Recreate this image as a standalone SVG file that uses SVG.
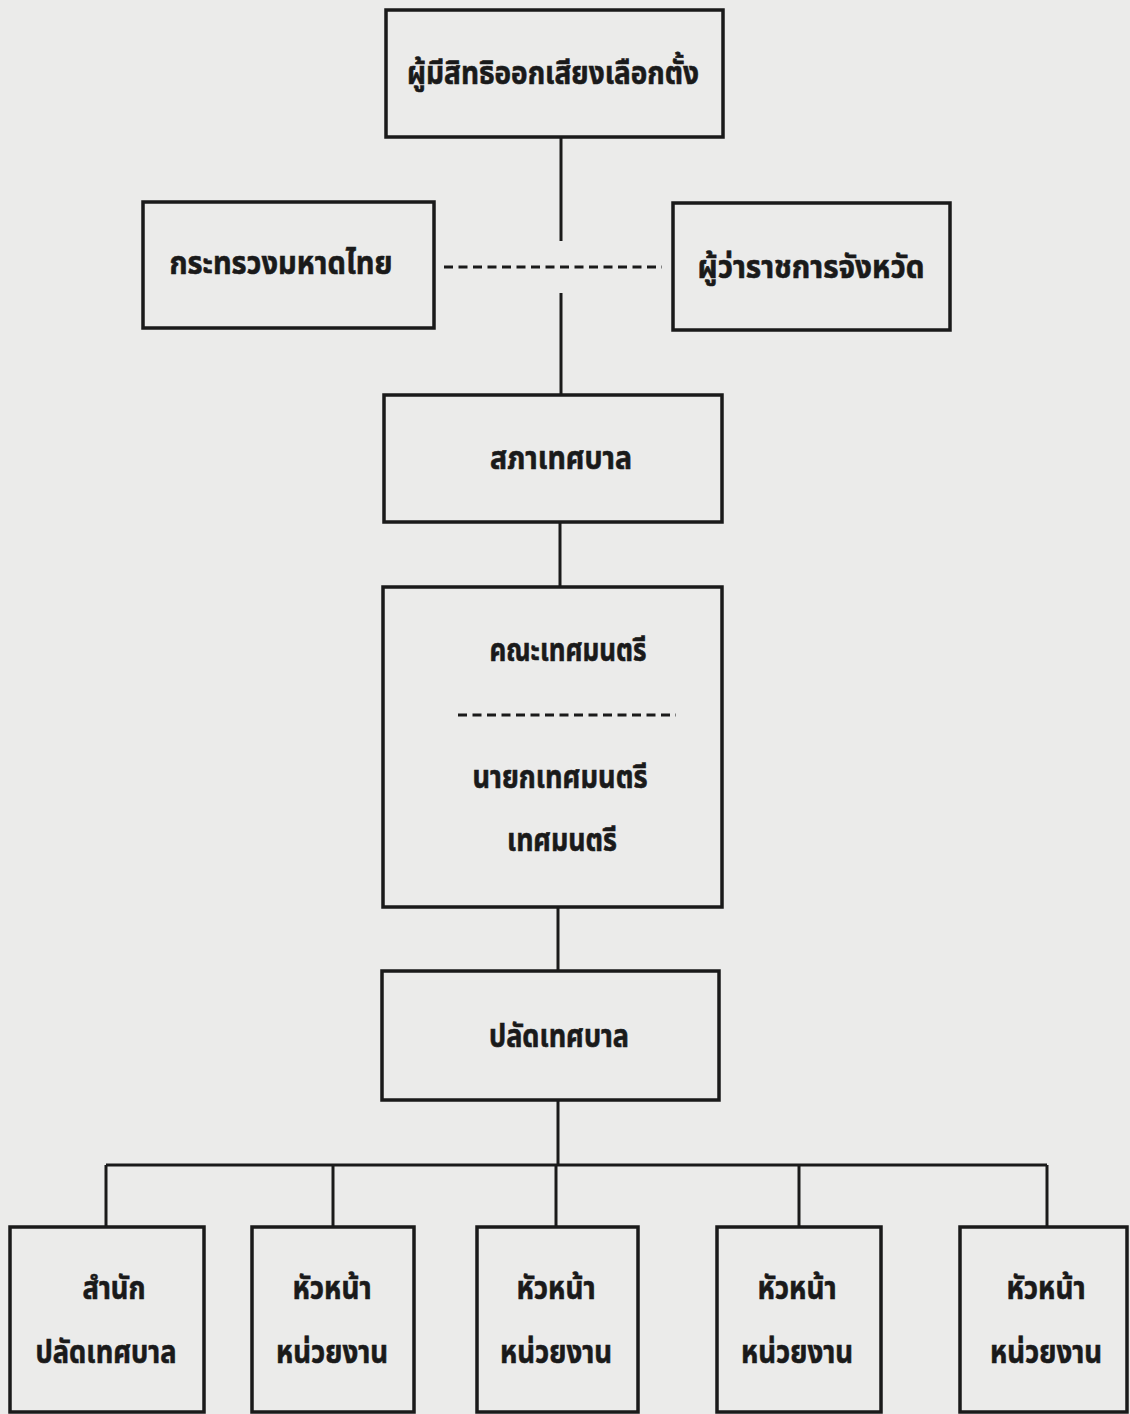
<svg xmlns="http://www.w3.org/2000/svg" width="1130" height="1414" viewBox="0 0 1130 1414">
<style>
.box{fill:none;stroke:#1a1a1a;stroke-width:3.5}
.ln{fill:none;stroke:#1a1a1a;stroke-width:3}
.dash{fill:none;stroke:#1a1a1a;stroke-width:3;stroke-dasharray:9 5.5}
.t{font-family:"Noto Sans Thai","Noto Sans","DejaVu Sans",sans-serif;font-weight:bold;font-size:32px;fill:#1a1a1a;stroke:#1a1a1a;stroke-width:0.6;text-anchor:middle}
</style>
<rect x="0" y="0" width="1130" height="1414" fill="#ebebea"/>
<g id="connectors">
<line class="ln" x1="561" y1="137" x2="561" y2="241"/>
<line class="ln" x1="561" y1="293" x2="561" y2="395"/>
<line class="dash" x1="444" y1="267" x2="662" y2="267"/>
<line class="ln" x1="560" y1="522" x2="560" y2="587"/>
<line class="ln" x1="558" y1="907" x2="558" y2="971"/>
<line class="ln" x1="558" y1="1100" x2="558" y2="1165"/>
<line class="ln" x1="106" y1="1165" x2="1047" y2="1165"/>
<line class="ln" x1="106" y1="1165" x2="106" y2="1227"/>
<line class="ln" x1="333" y1="1165" x2="333" y2="1227"/>
<line class="ln" x1="556" y1="1165" x2="556" y2="1227"/>
<line class="ln" x1="799" y1="1165" x2="799" y2="1227"/>
<line class="ln" x1="1047" y1="1165" x2="1047" y2="1227"/>
</g>
<g id="voters">
<rect class="box" x="386" y="10" width="337" height="127"/>
<text class="t" x="553" y="84" textLength="292" lengthAdjust="spacingAndGlyphs">ผู้มีสิทธิออกเสียงเลือกตั้ง</text>
</g>
<g id="ministry">
<rect class="box" x="143" y="202" width="291" height="126"/>
<text class="t" x="281" y="274" textLength="223" lengthAdjust="spacingAndGlyphs">กระทรวงมหาดไทย</text>
</g>
<g id="governor">
<rect class="box" x="673" y="203" width="277" height="127"/>
<text class="t" x="811" y="278" textLength="227" lengthAdjust="spacingAndGlyphs">ผู้ว่าราชการจังหวัด</text>
</g>
<g id="council">
<rect class="box" x="384" y="395" width="338" height="127"/>
<text class="t" x="561" y="469" textLength="142" lengthAdjust="spacingAndGlyphs">สภาเทศบาล</text>
</g>
<g id="executive">
<rect class="box" x="383" y="587" width="339" height="320"/>
<text class="t" x="568" y="661" textLength="157" lengthAdjust="spacingAndGlyphs">คณะเทศมนตรี</text>
<line class="dash" x1="458" y1="715" x2="676" y2="715"/>
<text class="t" x="560" y="788" textLength="175" lengthAdjust="spacingAndGlyphs">นายกเทศมนตรี</text>
<text class="t" x="562" y="851" textLength="110" lengthAdjust="spacingAndGlyphs">เทศมนตรี</text>
</g>
<g id="clerk">
<rect class="box" x="382" y="971" width="337" height="129"/>
<text class="t" x="559" y="1047" textLength="140" lengthAdjust="spacingAndGlyphs">ปลัดเทศบาล</text>
</g>
<g id="office">
<rect class="box" x="10" y="1227" width="194" height="185"/>
<text class="t" x="114" y="1299" textLength="63" lengthAdjust="spacingAndGlyphs">สำนัก</text>
<text class="t" x="106" y="1363" textLength="141" lengthAdjust="spacingAndGlyphs">ปลัดเทศบาล</text>
</g>
<g id="unit1">
<rect class="box" x="252" y="1227" width="162" height="185"/>
<text class="t" x="332" y="1299" textLength="79" lengthAdjust="spacingAndGlyphs">หัวหน้า</text>
<text class="t" x="332" y="1363" textLength="112" lengthAdjust="spacingAndGlyphs">หน่วยงาน</text>
</g>
<g id="unit2">
<rect class="box" x="477" y="1227" width="161" height="185"/>
<text class="t" x="556" y="1299" textLength="79" lengthAdjust="spacingAndGlyphs">หัวหน้า</text>
<text class="t" x="556" y="1363" textLength="112" lengthAdjust="spacingAndGlyphs">หน่วยงาน</text>
</g>
<g id="unit3">
<rect class="box" x="717" y="1227" width="164" height="185"/>
<text class="t" x="797" y="1299" textLength="79" lengthAdjust="spacingAndGlyphs">หัวหน้า</text>
<text class="t" x="797" y="1363" textLength="112" lengthAdjust="spacingAndGlyphs">หน่วยงาน</text>
</g>
<g id="unit4">
<rect class="box" x="960" y="1227" width="167" height="185"/>
<text class="t" x="1046" y="1299" textLength="79" lengthAdjust="spacingAndGlyphs">หัวหน้า</text>
<text class="t" x="1046" y="1363" textLength="112" lengthAdjust="spacingAndGlyphs">หน่วยงาน</text>
</g>
</svg>
